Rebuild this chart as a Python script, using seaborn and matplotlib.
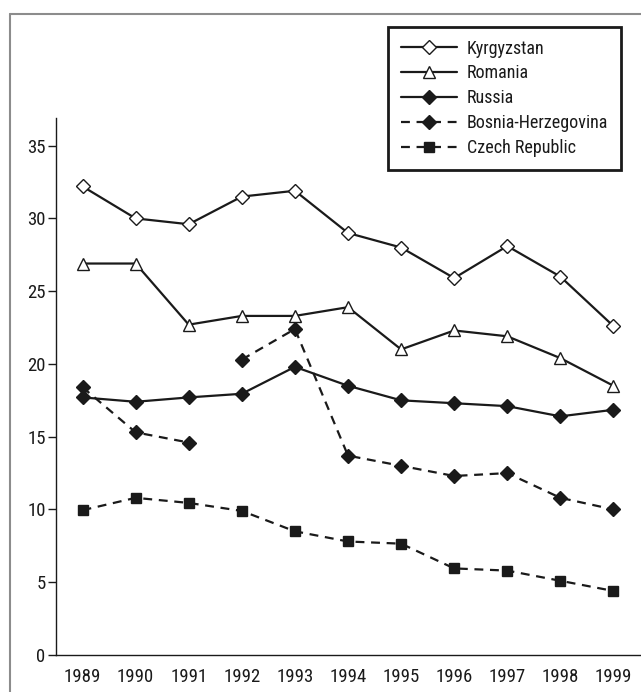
import numpy as np
import pandas as pd
import matplotlib
matplotlib.use('Agg')
import matplotlib.pyplot as plt
import seaborn as sns
from matplotlib.lines import Line2D

years = [1989, 1990, 1991, 1992, 1993, 1994, 1995, 1996, 1997, 1998, 1999]
kyrgyzstan = [32.2, 30.0, 29.6, 31.5, 31.9, 29.0, 28.0, 25.9, 28.1, 26.0, 22.6]
romania = [26.9, 26.9, 22.7, 23.3, 23.3, 23.9, 21.0, 22.3, 21.9, 20.4, 18.5]
russia = [17.7, 17.4, 17.7, 17.95, 19.8, 18.5, 17.5, 17.3, 17.1, 16.4, 16.85]
bosnia = [18.4, 15.3, 14.6, 20.3, 22.4, 13.7, 13.0, 12.3, 12.5, 10.8, 10.0]
bosnia_segment = [0, 0, 0, 1, 1, 1, 1, 1, 1, 1, 1]
czech = [9.95, 10.8, 10.45, 9.9, 8.5, 7.8, 7.65, 5.95, 5.8, 5.1, 4.4]

sns.set_style('white')
plt.rcParams['font.family'] = ['Roboto Condensed', 'Liberation Sans Narrow',
                               'Liberation Sans', 'DejaVu Sans']

fig = plt.figure(figsize=(6.41, 6.92), dpi=100)
ax = fig.add_axes([56 / 641, 37 / 692, 584 / 641, 537 / 692])

ink = '#1a1a1a'
dash = (0, (4, 3))
solid = dict(color=ink, linewidth=1.6, markersize=7.5, markeredgecolor=ink,
             markeredgewidth=1.0, estimator=None, ax=ax, legend=False)

sns.lineplot(x=years, y=kyrgyzstan, marker='D', markerfacecolor='white', **solid)
sns.lineplot(x=years, y=romania, marker='^', markerfacecolor='white',
             **{**solid, 'markersize': 9})
sns.lineplot(x=years, y=russia, marker='D', markerfacecolor=ink, **solid)

bos = pd.DataFrame({'year': years, 'value': bosnia, 'seg': bosnia_segment})
sns.lineplot(data=bos, x='year', y='value', units='seg', marker='D',
             markerfacecolor=ink, dashes=False, linestyle=dash, **solid)
sns.lineplot(x=years, y=czech, marker='s', markerfacecolor=ink,
             linestyle=dash, **{**solid, 'markersize': 6.5})

ax.set_xlim(1988.5, 1999.5)
ax.set_ylim(0, 36.9)
ax.set_xticks(years)
ax.set_xticklabels([str(y) for y in years])
ax.set_xticks(np.arange(1988.5, 1999.6, 1), minor=True)
ax.set_yticks([0, 5, 10, 15, 20, 25, 30, 35])
ax.set_xlabel('')
ax.set_ylabel('')

for s in ['top', 'right']:
    ax.spines[s].set_visible(False)
for s in ['left', 'bottom']:
    ax.spines[s].set_color(ink)
    ax.spines[s].set_linewidth(1.0)

ax.tick_params(axis='x', which='major', length=0, pad=9, labelsize=13.5, colors=ink)
ax.tick_params(axis='x', which='minor', length=7.2, width=1.0, color=ink, direction='out')
ax.tick_params(axis='y', length=6, width=1.0, pad=1.5, labelsize=13.5, colors=ink,
               direction='out', left=True)

handles = [
    Line2D([], [], color=ink, lw=1.6, marker='D', ms=7.5, mfc='white', mec=ink),
    Line2D([], [], color=ink, lw=1.6, marker='^', ms=9, mfc='white', mec=ink),
    Line2D([], [], color=ink, lw=1.6, marker='D', ms=7.5, mfc=ink, mec=ink),
    Line2D([], [], color=ink, lw=1.6, marker='D', ms=7.5, mfc=ink, mec=ink,
           linestyle=dash),
    Line2D([], [], color=ink, lw=1.6, marker='s', ms=6.5, mfc=ink, mec=ink,
           linestyle=dash),
]
labels = ['Kyrgyzstan', 'Romania', 'Russia', 'Bosnia-Herzegovina', 'Czech Republic']
leg = fig.legend(handles, labels, loc='upper right',
                 bbox_to_anchor=(621 / 641, 1 - 27 / 692),
                 bbox_transform=fig.transFigure, fontsize=13,
                 frameon=True, fancybox=False, framealpha=1, handlelength=3.1,
                 handletextpad=0.55, labelspacing=0.38, borderpad=0.7,
                 borderaxespad=0)
leg.get_frame().set_edgecolor(ink)
leg.get_frame().set_linewidth(2.0)
for t in leg.get_texts():
    t.set_color(ink)

# grey page frame on the left and top
fig.add_artist(Line2D([10 / 641, 10 / 641], [0, 1 - 14 / 692],
                      transform=fig.transFigure, color='#8c8c8c', lw=1.5))
fig.add_artist(Line2D([10 / 641, 1], [1 - 14 / 692, 1 - 14 / 692],
                      transform=fig.transFigure, color='#8c8c8c', lw=1.5))

fig.savefig('out.png', dpi=100)
